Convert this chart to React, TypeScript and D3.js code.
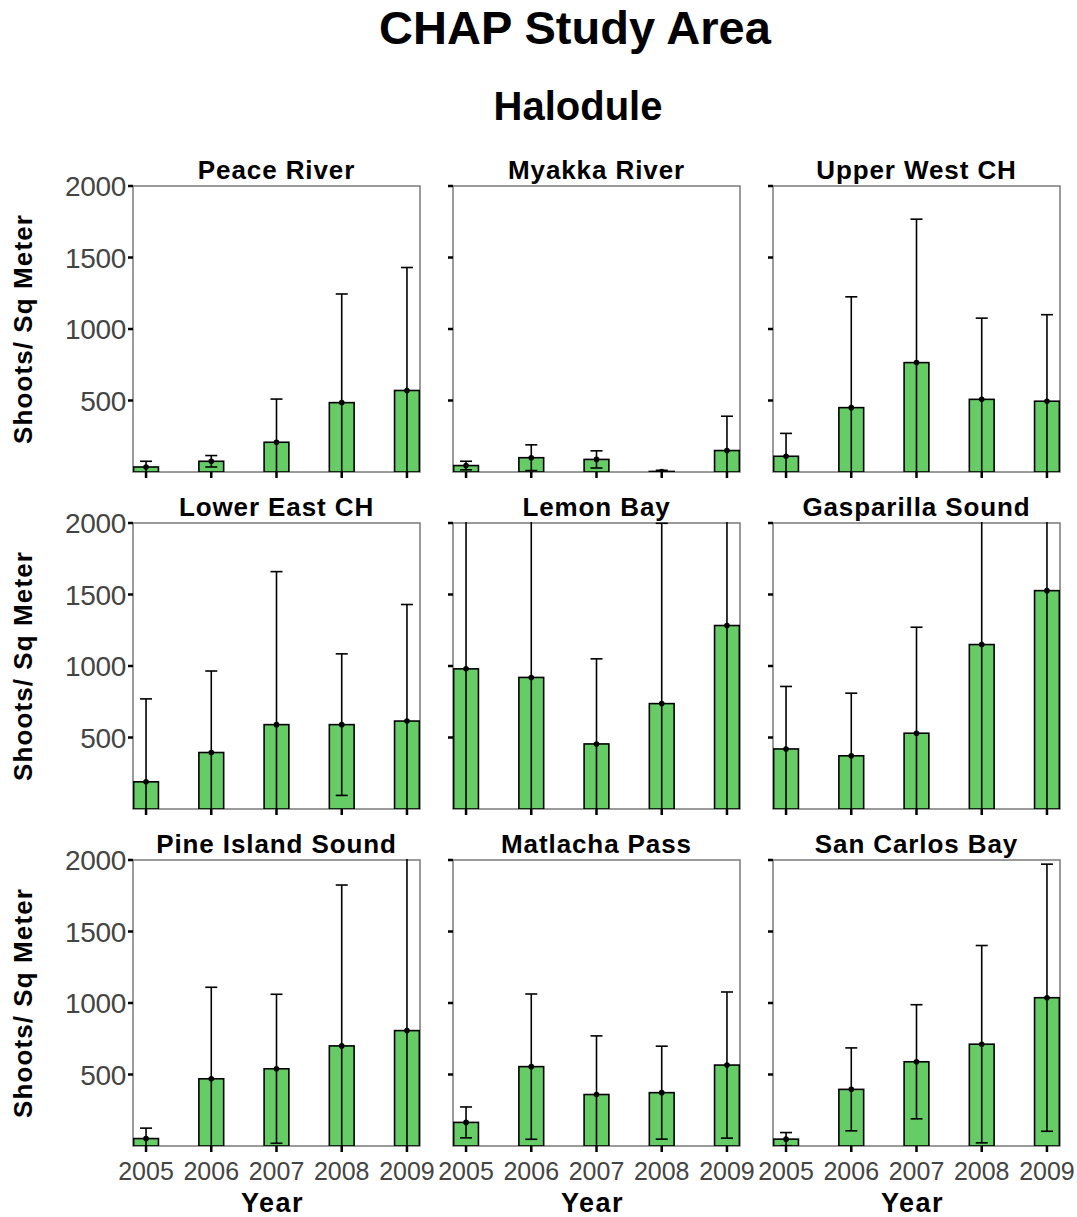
import React from "react";
import * as d3 from "d3";

const years = [2005, 2006, 2007, 2008, 2009];
const sites = [
  "Peace River", "Myakka River", "Upper West CH",
  "Lower East CH", "Lemon Bay", "Gasparilla Sound",
  "Pine Island Sound", "Matlacha Pass", "San Carlos Bay",
];
const peaceMean = [35, 75, 208, 485, 570];
const peaceSd = [40, 40, 302, 760, 860];
const myakkaMean = [45, 100, 88, 4, 150];
const myakkaSd = [30, 90, 60, 8, 240];
const upperWestMean = [110, 450, 765, 508, 495];
const upperWestSd = [160, 775, 1003, 568, 605];
const lowerEastMean = [190, 395, 590, 590, 615];
const lowerEastSd = [580, 570, 1070, 495, 815];
const lemonMean = [980, 920, 455, 737, 1283];
const lemonSd = [1150, 1200, 595, 1261, 1300];
const gasparillaMean = [420, 372, 530, 1150, 1527];
const gasparillaSd = [437, 438, 741, 1200, 1600];
const pineMean = [52, 470, 540, 700, 807];
const pineSd = [73, 640, 521, 1125, 1400];
const matlachaMean = [165, 555, 360, 373, 566];
const matlachaSd = [108, 508, 410, 325, 511];
const sanCarlosMean = [48, 396, 589, 712, 1037];
const sanCarlosSd = [46, 290, 399, 690, 934];
const yTicks = [500, 1000, 1500, 2000];

const means = [peaceMean, myakkaMean, upperWestMean, lowerEastMean, lemonMean, gasparillaMean, pineMean, matlachaMean, sanCarlosMean];
const sds = [peaceSd, myakkaSd, upperWestSd, lowerEastSd, lemonSd, gasparillaSd, pineSd, matlachaSd, sanCarlosSd];

const W = 1077, H = 1217;
const PW = 287, PH = 286;
const lefts = [133, 453, 773];
const tops = [186, 523, 860];
const FONT = "'Liberation Sans', Arial, sans-serif";

function Panel({ idx }: { idx: number }) {
  const col = idx % 3, row = Math.floor(idx / 3);
  const x0 = lefts[col], y0 = tops[row];
  const x = d3.scalePoint<number>().domain(years).range([x0, x0 + PW]).padding(0.2);
  const y = d3.scaleLinear().domain([0, 2000]).range([y0 + PH, y0]);
  const bw = x.step() * 0.38;
  const m = means[idx], s = sds[idx];
  const clipId = `clip${idx}`;
  const capW = 12;
  return (
    <g>
      <defs>
        <clipPath id={clipId}>
          <rect x={x0} y={y0 - 1} width={PW} height={PH + 1} />
        </clipPath>
      </defs>
      <rect x={x0} y={y0} width={PW} height={PH} fill="none" stroke="#7a7a7a" strokeWidth={1.5} />
      <text x={x0 + PW / 2} y={y0 - 7} textAnchor="middle" fontFamily={FONT} fontWeight="bold" fontSize={26} letterSpacing={0.9} fill="#000">{sites[idx]}</text>
      {yTicks.map(t => (
        <line key={t} x1={x0 - 5} x2={x0} y1={y(t)} y2={y(t)} stroke="#000" strokeWidth={2.5} />
      ))}
      {col === 0 && yTicks.map(t => (
        <text key={"l" + t} x={x0 - 7} y={y(t)} dy="0.37em" textAnchor="end" fontFamily={FONT} fontSize={28} letterSpacing={-0.3} fill="#444">{t}</text>
      ))}
      {years.map(yr => (
        <line key={"xt" + yr} x1={x(yr)!} x2={x(yr)!} y1={y0 + PH} y2={y0 + PH + 6} stroke="#000" strokeWidth={2.5} />
      ))}
      {row === 2 && years.map(yr => (
        <text key={"xl" + yr} x={x(yr)!} y={y0 + PH + 34} textAnchor="middle" fontFamily={FONT} fontSize={25} fill="#444">{yr}</text>
      ))}
      <g clipPath={`url(#${clipId})`}>
        {years.map((yr, i) => (
          <rect key={"b" + yr} x={x(yr)! - bw / 2} y={y(m[i])} width={bw} height={y(0) - y(m[i])}
            fill="#66cc66" stroke="#000" strokeWidth={1.6} />
        ))}
        {years.map((yr, i) => {
          const cx = x(yr)!;
          const hi = m[i] + s[i], lo = m[i] - s[i];
          return (
            <g key={"e" + yr} stroke="#000" strokeWidth={1.6}>
              <line x1={cx} x2={cx} y1={y(hi)} y2={y(Math.max(lo, -200))} />
              <line x1={cx - capW / 2} x2={cx + capW / 2} y1={y(hi)} y2={y(hi)} />
              {lo > 0 && <line x1={cx - capW / 2} x2={cx + capW / 2} y1={y(lo)} y2={y(lo)} />}
              <circle cx={cx} cy={y(m[i])} r={2.8} fill="#000" stroke="none" />
            </g>
          );
        })}
      </g>
      {col === 0 && (
        <text transform={`translate(32,${y0 + PH / 2}) rotate(-90)`} textAnchor="middle" fontFamily={FONT} fontWeight="bold" fontSize={26} letterSpacing={1.1} fill="#000">Shoots/ Sq Meter</text>
      )}
      {row === 2 && (
        <text x={x0 + PW / 2 - 4} y={y0 + PH + 66} textAnchor="middle" fontFamily={FONT} fontWeight="bold" fontSize={27} letterSpacing={1.5} fill="#000">Year</text>
      )}
    </g>
  );
}

export default function App() {
  return (
    <svg width={W} height={H} style={{ position: "absolute", left: 0, top: 0, background: "#fff" }}>
      <rect width={W} height={H} fill="#fff" />
      <text x={575} y={44} textAnchor="middle" fontFamily={FONT} fontWeight="bold" fontSize={47} fill="#000">CHAP Study Area</text>
      <text x={578} y={120} textAnchor="middle" fontFamily={FONT} fontWeight="bold" fontSize={40} fill="#000">Halodule</text>
      {sites.map((_, i) => <Panel key={i} idx={i} />)}
    </svg>
  );
}
